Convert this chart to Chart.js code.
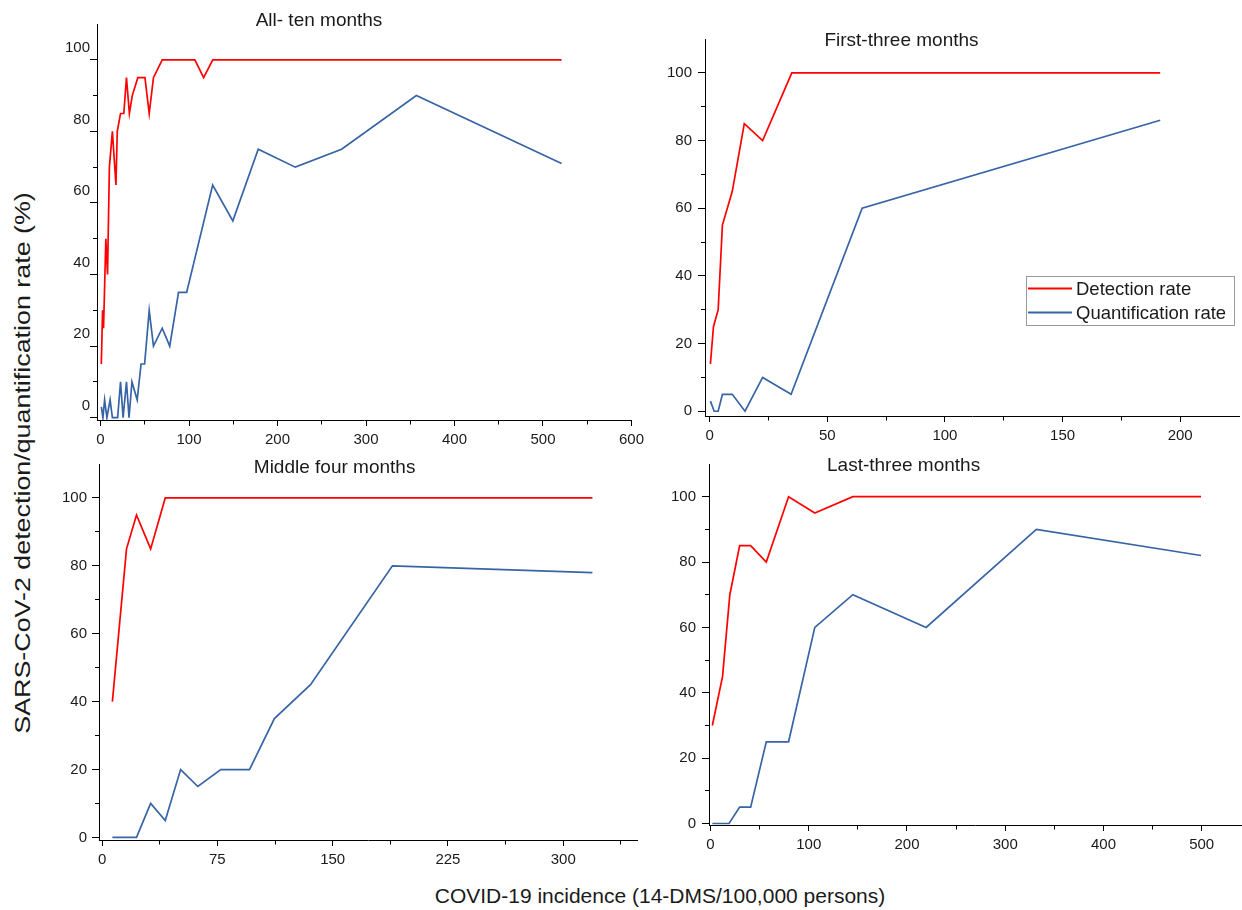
<!DOCTYPE html>
<html>
<head>
<meta charset="utf-8">
<script src="https://cdn.jsdelivr.net/npm/chart.js@4.4.1/dist/chart.umd.min.js"></script>
<style>
html,body{margin:0;padding:0;background:#fff;}
body{width:1242px;height:910px;position:relative;overflow:hidden;font-family:"Liberation Sans",Arial,sans-serif;}
canvas{position:absolute;}
#ytitle{position:absolute;left:23px;top:463px;transform:translate(-50%,-50%) rotate(-90deg) scaleX(1.22);white-space:nowrap;font-size:22px;color:#1a1a1a;}
#xtitle{position:absolute;left:660px;top:896px;transform:translate(-50%,-50%);white-space:nowrap;font-size:21px;color:#1a1a1a;}
</style>
</head>
<body>
<canvas id="pAll" width="597" height="456" style="left:52px;top:4px;width:597px;height:456px"></canvas>
<canvas id="pFirst" width="582" height="437" style="left:660px;top:19px;width:582px;height:437px"></canvas>
<canvas id="pMid" width="589" height="436" style="left:54px;top:444px;width:589px;height:436px"></canvas>
<canvas id="pLast" width="578" height="421" style="left:664px;top:444px;width:578px;height:421px"></canvas>
<div id="ytitle">SARS-CoV-2 detection/quantification rate (%)</div>
<div id="xtitle">COVID-19 incidence (14-DMS/100,000 persons)</div>
<script>
// ---------------- DATA ----------------
const seriesNames = ['Detection rate', 'Quantification rate'];
const panelTitles = ['All- ten months', 'First-three months', 'Middle four months', 'Last-three months'];

// All ten months
const allDetX = [0.9, 2.3, 3.4, 6.0, 7.9, 10.0, 13.4, 17.4, 18.9, 22.6, 26.3, 29.3, 32.6, 35.9, 42.1, 50.2, 55.0, 59.8, 69.7, 106.6, 116.5, 126.8, 521];
const allDetY = [15, 30, 25, 50, 40, 70, 80, 65, 80, 85, 85, 95, 85, 90, 95, 95, 85, 95, 100, 100, 95, 100, 100];
const allQuaX = [0.9, 2.7, 4.6, 7.2, 10.8, 13.4, 19.3, 22.6, 25.5, 29.3, 32.2, 35.5, 41.4, 45.8, 49.8, 55.0, 59.8, 69.7, 78.2, 88.1, 97.3, 126.7, 149.5, 178.2, 220.1, 272.4, 356.9, 521];
const allQuaY = [3, 0, 5, 0, 5, 0, 0, 10, 0, 10, 0, 10, 5, 15, 15, 30, 20, 25, 20, 35, 35, 65, 55, 75, 70, 75, 90, 71];

// First three months
const firstDetX = [0.3, 1.6, 3.6, 5.4, 9.6, 14.7, 22.5, 34.9, 191.5];
const firstDetY = [14, 25, 30, 55, 65, 85, 80, 100, 100];
const firstQuaX = [0.3, 1.9, 3.6, 5.4, 9.6, 15.0, 22.5, 34.6, 64.8, 191.5];
const firstQuaY = [3, 0, 0, 5, 5, 0, 10, 5, 60, 86];

// Middle four months
const midDetX = [6.7, 15.9, 22.4, 31.6, 41.1, 319];
const midDetY = [40, 85, 95, 85, 100, 100];
const midQuaX = [6.7, 22.4, 31.6, 41.1, 51.1, 62.3, 77.2, 95.9, 112.1, 135.6, 188.9, 319];
const midQuaY = [0, 0, 10, 5, 20, 15, 20, 20, 35, 45, 80, 78];

// Last three months
const lastDetX = [1.9, 12.3, 19.7, 29.7, 40.9, 56.8, 79.5, 106.2, 144.9, 499.3];
const lastDetY = [30, 45, 70, 85, 85, 80, 100, 95, 100, 100];
const lastQuaX = [1.9, 18.9, 29.7, 40.9, 56.8, 79.5, 106.2, 144.9, 219.5, 331.7, 499.3];
const lastQuaY = [0, 0, 5, 5, 25, 25, 60, 70, 60, 90, 82];

// Tick values (major ones are labelled)
const allXTicks = [0, 50, 100, 150, 200, 250, 300, 350, 400, 450, 500, 550, 600];
const firstXTicks = [0, 25, 50, 75, 100, 125, 150, 175, 200];
const midXTicks = [0, 37.5, 75, 112.5, 150, 187.5, 225, 262.5, 300, 337.5];
const lastXTicks = [0, 50, 100, 150, 200, 250, 300, 350, 400, 450, 500];
const rateYTicks = [0, 10, 20, 30, 40, 50, 60, 70, 80, 90, 100];

// ---------------- STYLE ----------------
const FONT = '"Liberation Sans", Arial, sans-serif';
const TXT = '#1a1a1a';
const RED = '#ff0000';
const BLUE = '#3764a5';

const panelText = {
  id: 'panelText',
  afterDraw(chart, args, o) {
    const ctx = chart.ctx;
    ctx.save();
    ctx.fillStyle = TXT;
    ctx.font = '19px ' + FONT;
    ctx.textAlign = 'center';
    ctx.textBaseline = 'middle';
    ctx.fillText(o.title, o.tx, o.ty);
    if (o.legend) {
      const L = o.legend;
      ctx.strokeStyle = '#9a9a9a';
      ctx.lineWidth = 1;
      ctx.strokeRect(L.x + 0.5, L.y + 0.5, L.w, L.h);
      ctx.font = L.size + 'px ' + FONT;
      ctx.textAlign = 'left';
      chart.data.datasets.forEach((ds, i) => {
        const yy = L.y + L.row0 + i * L.rowStep;
        ctx.strokeStyle = ds.borderColor;
        ctx.lineWidth = 2;
        ctx.beginPath();
        ctx.moveTo(L.x + 2, yy);
        ctx.lineTo(L.x + 46, yy);
        ctx.stroke();
        ctx.fillStyle = TXT;
        ctx.fillText(ds.label, L.x + 50, yy + 1);
      });
    }
    ctx.restore();
  }
};

function mkData(xs, ys) { return xs.map((x, i) => ({ x: x, y: ys[i] })); }

function makePanel(id, p) {
  const isMajor = (v, step) => Math.abs(v / step - Math.round(v / step)) < 1e-6;
  const cfg = {
    type: 'line',
    data: {
      datasets: [
        { label: seriesNames[0], data: mkData(p.detX, p.detY), borderColor: RED, borderWidth: 1.7, pointRadius: 0, tension: 0, fill: false },
        { label: seriesNames[1], data: mkData(p.quaX, p.quaY), borderColor: BLUE, borderWidth: 1.7, pointRadius: 0, tension: 0, fill: false }
      ]
    },
    options: {
      responsive: false,
      animation: false,
      events: [],
      layout: { padding: { top: 20, right: p.padRight, left: 0, bottom: 0 } },
      plugins: {
        legend: { display: false },
        tooltip: { enabled: false },
        title: { display: false },
        panelText: { title: p.title, tx: p.tx, ty: p.ty, legend: p.legend || null }
      },
      scales: {
        x: {
          type: 'linear', min: p.xMin, max: p.xMax,
          afterBuildTicks: s => { s.ticks = p.xTicks.map(v => ({ value: v })); },
          afterFit: s => { s.height = 40; },
          ticks: {
            autoSkip: false, maxRotation: 0, minRotation: 0, padding: 5, color: TXT,
            font: { size: 15, family: FONT },
            callback: v => isMajor(v, p.xMajor) ? String(v) : ''
          },
          grid: {
            drawOnChartArea: false, drawTicks: true, tickLength: 6, color: '#000', tickWidth: 1,
            tickBorderDash: c => (c.tick && !isMajor(c.tick.value, p.xMajor)) ? [3.5, 100] : [],
          },
          border: { display: true, color: '#000', width: 1 }
        },
        y: {
          type: 'linear', min: p.yMin, max: 110,
          afterBuildTicks: s => { s.ticks = rateYTicks.map(v => ({ value: v })); },
          afterFit: s => { s.width = 45; },
          ticks: {
            autoSkip: false, padding: p.yPad, color: TXT, labelOffset: p.yLabelOffset || 0,
            font: { size: 15, family: FONT },
            callback: v => isMajor(v, 20) ? String(v) : ''
          },
          grid: {
            drawOnChartArea: false, drawTicks: true, tickLength: 7, color: '#000', tickWidth: 1,
            tickBorderDash: c => (c.tick && !isMajor(c.tick.value, 20)) ? [4, 100] : [],
            tickBorderDashOffset: c => (c.tick && !isMajor(c.tick.value, 20)) ? 101 : 0
          },
          border: { display: true, color: '#000', width: 1 }
        }
      }
    },
    plugins: [panelText]
  };
  return new Chart(document.getElementById(id), cfg);
}

makePanel('pAll', {
  detX: allDetX, detY: allDetY, quaX: allQuaX, quaY: allQuaY,
  xMin: -4, xMax: 600, yMin: -0.64, xTicks: allXTicks, xMajor: 100,
  padRight: 6, yPad: 0, yLabelOffset: -12,
  title: panelTitles[0], tx: 267, ty: 17
});
makePanel('pFirst', {
  detX: firstDetX, detY: firstDetY, quaX: firstQuaX, quaY: firstQuaY,
  xMin: -2, xMax: 225, yMin: -1.4, xTicks: firstXTicks, xMajor: 50,
  padRight: 3, yPad: 6,
  title: panelTitles[1], tx: 241.5, ty: 21.7,
  legend: { x: 366, y: 257, w: 208, h: 49, row0: 12.5, rowStep: 24, size: 18.5 }
});
makePanel('pMid', {
  detX: midDetX, detY: midDetY, quaX: midQuaX, quaY: midQuaY,
  xMin: -2, xMax: 348, yMin: -0.76, xTicks: midXTicks, xMajor: 75,
  padRight: 6, yPad: 5,
  title: panelTitles[2], tx: 280.6, ty: 23.3
});
makePanel('pLast', {
  detX: lastDetX, detY: lastDetY, quaX: lastQuaX, quaY: lastQuaY,
  xMin: -1.5, xMax: 540, yMin: -0.46, xTicks: lastXTicks, xMajor: 100,
  padRight: 1, yPad: 6,
  title: panelTitles[3], tx: 239.6, ty: 21.7
});
</script>
</body>
</html>
